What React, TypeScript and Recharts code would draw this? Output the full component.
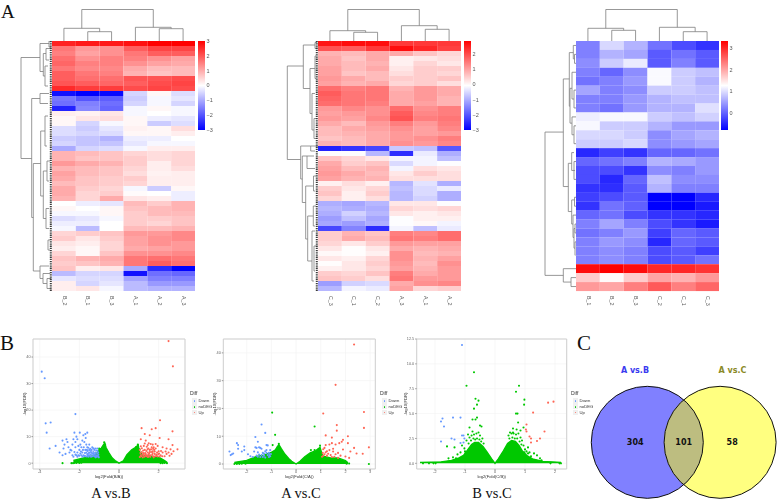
import React from 'react';
import {
  Area, Bar, BarChart, CartesianGrid, Cell, ComposedChart, Legend, ReferenceArea,
  Scatter, ScatterChart, XAxis, YAxis, ZAxis,
} from 'recharts';

// ---------- heatmap A, left ----------
const colsAB = ['B_2', 'B_1', 'B_3', 'A_1', 'A_2', 'A_3'];
const heatAB = [
  [2.6,2.7,2.7,2.8,3,3],[1.6,1.2,1.3,1.9,2.2,2.2],[1.5,1.1,1.3,1.6,1.9,1.9],[1.7,1.3,1.5,1.5,1.3,1.1],[1.8,1.5,1.5,1.3,1.1,1],
  [1.6,1.4,1.4,1,.8,.8],[1.9,1.6,1.5,.9,.7,.8],[1.9,1.7,1.7,2,2,2.1],[2,1.9,1.8,1.9,2.1,2.2],[2.5,2.3,2.3,2.1,2.2,2.1],
  [-2.8,-3,-2.9,-.5,.1,-.4],[-1.6,-2,-1.9,-.6,-.1,-.3],[-1.7,-1.5,-1.7,-.5,-.1,-.5],[-2.6,-1.4,-1.8,-.1,.1,-.1],[.2,.15,.3,-.1,0,-.1],
  [.1,.3,.4,.1,-.2,-.3],[.1,-.5,-.1,.1,-.6,-.4],[-.4,-.6,-.3,.15,.1,.4],[-.4,-.5,-.4,.1,.1,.2],[-.6,-.7,-.9,-.2,-.2,0],
  [-.5,-.7,-.7,-.3,-.1,-.1],[-1,-.5,-.4,-.1,.2,.2],[.9,.8,.7,.5,.4,.5],[.9,.7,.7,.6,.4,.5],[1.2,1,.9,.6,.2,.5],
  [.9,.8,.7,.5,.2,.4],[1.1,.8,.7,.4,.15,.2],[1,.7,.6,.6,.2,.2],[.8,.7,.6,.5,.2,.2],[1,.6,.5,-.1,-.6,.1],
  [1,.5,.6,.05,0,-.2],[.9,.5,1,.3,.2,-.2],[0,-.2,-.3,.8,.6,.9],[.1,0,.1,.7,.8,.9],[-.1,-.1,.1,.6,.8,.8],
  [-.4,-.3,-.1,.6,.6,.7],[-.2,-.2,0,.6,.5,.7],[-.1,-.8,0,.8,.8,.9],[.5,.6,.7,1.2,1.2,1.4],[.6,.3,.6,1.1,1.3,1.4],
  [.3,.2,.5,1.1,1.3,1.2],[.2,.1,.5,1,1.1,1.2],[.5,.1,.7,1.3,1.3,1.4],[.7,.9,1,1.6,1.7,1.6],[.6,.7,.9,1.6,1.9,1.7],
  [.7,.2,.3,-1,-2.5,-3],[-.8,-.5,-.5,-2.8,-1.7,-1.8],[-.3,-.4,-.4,-1.1,-1.5,-1.5],[.2,-.5,-.3,-.8,-1.2,-1.2],[.2,.3,-.1,-.8,-.9,-.9],
];
const ticksAB = [3, 2, 1, 0, -1, -2, -3];
const topAB = [[1.25,12.7,4.25,13.7,31.5],[.5,0,2,9.3,12.7],[1.5,0,2.5,0,9.3],[3.5,0,5,12.3,13.7],[4.5,0,5.5,0,12.3]];
const rowAB = [
  [3.3,12,23.5,20.3,31],[.5,3,6.1,8.7,12],[0,0,1.2,1,3],[2.5,6,7,7,8.7],[1.5,2,3.8,3,6],[5,4,9,4,7],
  [11.5,12,35.3,18.7,20.3],[10.5,3,12.5,4,12],[24.5,11.3,46,12,18.7],[18,7,31,8.7,11.3],[15,4,21,5,7],
  [26,5,35.5,6,8.7],[33.5,3,37.5,3,6],[24,2,28,3,5],[39.8,2,41.8,2,4],[45,3,47.5,9,12],[46.5,2,48.5,5,9],[47.5,1,49.5,1,5],
];

// ---------- heatmap A, middle ----------
const colsAC = ['C_3', 'C_1', 'C_2', 'A_3', 'A_1', 'A_2'];
const heatAC = [
  [2.6,2.7,2.7,2.2,2.2,2.2],[1.9,1.8,2.2,2.7,2.4,2.1],[.8,.7,.9,.9,.6,.4],[.9,.6,.9,.1,.2,.3],[.9,.7,.8,.1,.4,.2],
  [1,.7,.9,.2,.5,.5],[1,.6,.7,.3,.5,.4],[1.1,.9,.7,.5,.5,.6],[1,.8,.9,.4,.5,.3],[1.6,1.4,1.5,.8,1.1,.9],
  [1.8,1.5,1.5,.9,1.1,.9],[1.7,1.5,1.5,.9,1.1,.8],[1.6,1.5,1.4,.9,1,.8],[1.1,1.3,1.2,1.6,1.2,1.4],[1,1.1,1.2,1.8,1.3,1.4],
  [1.1,1,1.3,1.9,1.4,1.5],[.9,.7,1.1,1.4,1.1,1.4],[.7,.9,1,1.2,1,1.3],[.7,.8,.9,1.1,1,1.1],[.6,.7,.9,1.1,1.2,1.4],
  [.8,.7,.9,1.2,1.1,1.3],[-2.6,-2.4,-2.2,-.7,-.8,-2],[-.1,-.1,-.9,-2.5,-.3,-1],[.6,.4,.2,-.2,-.2,-.8],[.9,.5,.6,-.5,-.2,-.1],
  [1,.7,.8,-.2,.3,.2],[1.1,.9,.7,.2,.5,.3],[1,.8,.8,.3,.3,.3],[.1,.3,.1,-.9,-.4,-1],[.5,.2,.4,-.8,-.5,-.3],
  [.6,.1,.5,-.9,-.5,-1],[.4,.1,.3,-.9,-.6,-1],[-1,-1.1,-.9,.2,.2,-.1],[-.9,-1,-1,.4,.3,.4],[-1,-.6,-.9,.2,.1,.2],
  [-1.2,-.8,-1.1,-.1,.1,.1],[-1.1,-1.2,-1,-.1,0,-.2],[-2.2,-1.5,-2.5,-.2,-.8,-.3],[.5,.8,.6,1.4,1.3,1.6],[.5,.9,.7,1.5,1.4,1.6],
  [.4,.2,.5,1.1,1,1],[.2,-.05,.2,.9,.8,.9],[0,-.05,.1,1.2,.7,.8],[.2,.1,.4,1.2,.8,1],[-.05,.2,.5,1.1,.7,1.2],
  [.1,.2,.4,1,.8,1.1],[.5,.4,.6,1.4,.9,1.1],[.6,.5,.3,1.5,1.1,1.1],[-1.2,-.6,-.5,.9,1.2,1.3],[-.9,-.2,-.3,1,.4,.5],
];
const ticksAC = [2, 1, 0, -1, -2, -3];
const topAC = [[1.25,10.3,4.25,15.3,31.5],[.5,0,2,8.7,10.3],[1.5,0,2.5,0,8.7],[3.5,0,5,11.7,15.3],[4.5,0,5.5,0,11.7]];
const rowAC = [
  [5,14.7,23.7,17.3,30.7],[.8,3,9.5,8,14.7],[.3,1,1.5,2,3],[5.5,3,14.5,6,8],[10.5,3,17.8,4,6],[3,2,7.5,2,3],[15.5,2,19.5,2,4],
  [21,7.3,27.6,15.7,17.3],[21,0,22,3,7.3],[23,11,32.3,12.3,15.7],[23,4,25.5,3,11],[29,4.5,39.6,10.3,12.3],
  [35,4.7,44,6,10.3],[33,2,37,3,4.7],[38,3,48,4,6],[41,2,46,3,4],[27,2,30,3,4.5],
];

// ---------- heatmap A, right ----------
const colsBC = ['B_1', 'B_2', 'B_3', 'C_2', 'C_1', 'C_3'];
const heatBC = [
  [.25,.96,.66,.14,-.17,-.37],[.25,.66,.55,-.06,.14,-.06],[.35,.86,1.11,-.06,.25,-.06],[.25,.04,.35,1.23,.86,.76],
  [.14,.25,.45,1.23,.86,.66],[.55,.25,.35,.86,.86,.76],[.25,.25,.45,.66,.76,.76],[.25,.14,.45,.66,.66,1.02],
  [1.13,1.21,1.21,.86,.76,.9],[1.21,.86,.86,.66,.45,.45],[.96,.96,.86,.35,.55,.66],[.86,.86,.96,.35,.45,.55],
  [-.47,-.27,-.37,.04,.04,.14],[.04,.14,.25,.66,.59,.45],[-.17,-.17,-.37,.35,.25,.45],[-.17,-.47,.04,.76,.35,.35],
  [-.37,-.41,-.06,.66,.25,.25],[-.27,-.17,-.06,-.78,-.78,-.47],[-.37,.14,0,-.78,-.78,-.58],[.04,.14,-.17,-.37,-.37,-.47],
  [.25,.55,.25,-.17,-.37,-.58],[.14,.25,.45,-.27,.04,-.06],[.25,.45,.35,-.47,.04,-.06],[.25,.35,.25,-.17,-.06,-.27],
  [.25,.35,.25,-.17,-.06,.14],[3.22,3.32,3.22,3.01,3.01,2.91],[1.68,1.31,1.68,1.99,1.89,2.09],[2.09,1.99,2.3,2.6,2.3,2.5],
];
const ticksBC = [3, 2, 1, 0];
const topBC = [[1.25,12.7,4.25,13.7,31.5],[.5,0,2,10.7,12.7],[1.5,0,2.5,0,10.7],[3.5,0,5,9.3,13.7],[4.5,0,5.5,0,9.3]];
const rowBC = [
  [10.2,12.7,26.25,12.7,31],[25.5,0,27,5,12.7],[26.5,0,27.5,0,5],[4.25,6.7,16.3,7.7,12.7],[1.3,2.7,7.3,6,6.7],[.5,0,2,1.5,2.7],[1.5,0,2.5,0,1.5],
  [5.3,4,9.2,4,6],[3.5,0,6.5,2,4],[5.5,0,7.5,0,2],[8.5,0,10.5,2,4],[9.5,0,11.5,0,2],
  [13.7,4.3,19.1,4.3,7.7],[12.5,2,14.5,1,4.3],[13.5,0,15.5,0,2],[17.8,1.5,20.5,3,4.3],[17.5,0,18.5,0,1.5],[19.5,0,22,2,3],[21,1,23.2,1,2],[20.5,0,21.5,0,1],[22.5,0,24,.6,1],
];

// ---------- volcano plots ----------
const diffLevels = [['Down', '#6699ff'], ['noDEG', '#00c800'], ['Up', '#ff6655']];

const ticksX1 = [-4, -2, 0, 2];
const ticksY1 = [0, 10, 20, 30, 40];
const green1 = [[-2.3,1],[-2,1.6],[-1.5,2.4],[-1.2,3],[-1.05,4.4],[-1,5.2],[-.9,5.6],[-.78,7],[-.72,7.6],[-.65,5.8],[-.5,3.8],[-.35,2],[-.2,1],[0,0],[.22,.9],[.4,3.2],[.64,5],[.8,5.8],[.97,6.8],[1.02,4.5],[1.2,3],[1.6,2.6],[2.07,2],[2.3,1],[2.42,.3]];
const greenDots1 = [[-2.85,0],[-2.4,0],[-2.32,0],[-2.25,.1],[-2.15,.1],[-2,.1],[-1.9,.2],[2.1,0],[2.2,0],[2.3,.1],[2.42,0],[-.75,7.9],[-.7,7],[-.85,5.8],[.95,7],[.85,6],[1.04,5.2],[-1,5.5]];
const blue1 = [[-3.9,34.5],[-3.75,32],[-3.7,15],[-3.45,15.3],[-3.65,11.5],[-3.5,5.5],[-3.2,6.5],[-3,4],[-2.85,8.5],[-2.8,5.5],[-2.75,7],[-2.85,3],[-2.7,3.5],[-2.65,9],[-2.6,8],[-2.55,6],[-2.5,4],[-2.45,5],[-2.35,3],[-2.35,7],[-2.3,9],[-2.25,11.5],[-2.2,18.5],[-2.2,6],[-2.2,8],[-2.15,10],[-2.1,9],[-2.1,4],[-2.05,3],[-2,5],[-1.98,11.5],[-1.95,7],[-1.9,3],[-1.85,4],[-1.8,10.5],[-1.78,6],[-1.75,8],[-1.7,11],[-1.65,4],[-1.6,6],[-1.6,11.5],[-1.55,3],[-1.5,5],[-1.5,7],[-1.45,2.5],[-1.4,4],[-1.35,6],[-1.3,3],[-1.25,5],[-1.2,2.5],[-1.2,4],[-1.15,3],[-1.1,5.5],[-1.05,2.5],[-1.05,4],[-2.3,2.4],[-2.2,3.2],[-2.1,2.4],[-2,2.8],[-1.95,3.6],[-1.85,2.4],[-1.8,3],[-1.75,2.6],[-1.72,3.8],[-1.7,5],[-1.65,2.5],[-1.6,3.4],[-1.58,4.6],[-1.55,2.4],[-1.5,3],[-1.48,4],[-1.42,3.2],[-1.4,2.4],[-1.38,5],[-1.33,2.6],[-1.3,4.2],[-1.28,3.5],[-1.22,3.2],[-1.2,5.5],[-1.18,2.2],[-1.12,2.4],[-1.1,3.6],[-1.08,4.6],[-1.04,3.2],[-1.02,2.2],[-1.9,6],[-1.85,8.5],[-1.68,9.5],[-1.65,7],[-2.05,6.5],[-2.4,4.8],[-1.55,5.8],[-1.92,4.4],[-1.82,5],[-1.62,5],[-1.52,3.8],[-1.45,5.4],[-1.35,3.6],[-1.25,2.6],[-1.15,4.8],[-1.08,2.8],[-1.72,2.8],[-2.15,3],[-2.25,4.2],[-1.42,4.6],[-1.3,5.6],[-1.18,3.8],[-1.58,2.8]];
const red1 = [[2.5,46],[2.72,36.5],[2.07,16.2],[2.7,12],[1.14,13.2],[1.85,13.2],[1.65,12.8],[1.3,11],[1.55,10.5],[2.05,9.5],[2.5,9],[1.1,9],[1.35,8.5],[1.5,7.5],[1.7,7],[1.85,7.2],[1.95,6.5],[2.2,6],[2.4,5.5],[2.7,6.8],[2.95,5.2],[2.75,4.5],[2.65,3.5],[2.55,2.8],[2.4,3.5],[2.2,4],[2.1,3],[2,4.5],[1.95,2.5],[1.85,5.5],[1.8,3.5],[1.75,2.2],[1.7,4.5],[1.65,6],[1.6,3],[1.55,5],[1.5,2.5],[1.45,4],[1.4,6.2],[1.35,2.8],[1.3,5],[1.25,3.5],[1.25,6.5],[1.2,2.2],[1.15,4.2],[1.1,3],[1.05,2.3],[1.05,5],[1.08,3.8],[1.12,2.6],[1.18,3.2],[1.22,4.8],[1.28,2.4],[1.32,3.8],[1.38,4.6],[1.42,3],[1.46,2.3],[1.48,5.5],[1.52,3.6],[1.58,2.4],[1.62,4.2],[1.68,3.2],[1.72,2.6],[1.78,5],[1.82,2.6],[1.88,3.2],[1.92,4],[1.98,3.4],[2.05,2.5],[2.12,4.6],[2.3,2.6],[2.35,4.4],[2.5,4],[2.6,5.2],[1.6,7.2],[1.75,6],[1.45,6.8],[1.3,7.4],[1.15,5.6],[1.1,6.4],[1.25,2.9],[1.35,3.4],[1.5,3.2],[1.55,4.2],[1.7,3.8],[1.8,4.4],[1.9,2.7],[1.62,5.2],[1.44,5.2],[1.72,5.4],[2.02,3.6],[2.18,2.6],[1.22,3.8],[1.38,2.6]];

const ticksX2 = [-2, -1, 0, 1, 2, 3];
const ticksY2 = [0, 10, 20, 30, 40];
const green2 = [[-2.5,.6],[-2,1.3],[-1.6,2.7],[-1.3,3.2],[-1,4.2],[-.85,5],[-.7,7],[-.6,5.5],[-.45,3.5],[-.3,2],[-.18,1],[0,0],[.16,1],[.35,2.6],[.57,4],[.8,4.8],[.97,6],[1.05,3.6],[1.1,2.8],[1.4,2.2],[1.7,2.2],[2,1.2],[2.1,.4]];
const greenDots2 = [[-2.5,0],[-2.4,0],[-2.3,0],[-2.2,.1],[-2.05,.1],[2.05,.1],[2.15,.2],[2.95,0],[-.97,18.5],[-.85,10.5],[.75,13.5],[-.95,6.8],[-.7,7.3],[-.75,6],[.75,5],[.6,5],[.97,6.6],[.9,5.2]];
const blue2 = [[-1.4,14.2],[-1.25,11.2],[-1.65,9.7],[-1.55,8],[-2.4,7.5],[-2.7,4.5],[-2.65,3.2],[-2.6,3.5],[-2.55,3.8],[-2.35,6.8],[-2.35,5.5],[-2.2,4.5],[-2.1,6.3],[-2.1,5],[-1.95,3.5],[-1.85,2.8],[-1.75,2.5],[-1.7,4.5],[-1.65,6],[-1.6,3],[-1.5,6],[-1.45,5.8],[-1.4,5.5],[-1.35,4],[-1.3,3],[-1.25,2.3],[-1.2,6.8],[-1.15,6.7],[-1.2,5],[-1.2,4],[-1.15,3.2],[-1.1,2.5],[-1.05,5],[-1.55,2.6],[-1.5,3.4],[-1.45,2.5],[-1.4,3.2],[-1.35,2.5],[-1.3,3.8],[-1.25,4.6],[-1.1,4],[-1.08,3.2],[-1.05,2.8],[-1.02,3.6],[-1.6,5.8],[-1.55,4.2]];
const red2 = [[2.35,43],[1.6,28.5],[2.75,18.7],[1.1,18.2],[1.65,14],[1.65,12],[2.75,13],[2.1,10],[1.2,10.3],[1.45,9.5],[1.9,8.7],[1.85,8],[2.1,7.5],[1.75,7.5],[1.6,7],[1.45,7.5],[1.35,7],[1.2,6.8],[1.15,5.8],[1.1,5.3],[2.95,6],[2.35,5.8],[2.2,4.5],[1.9,5.2],[2.45,3.8],[2.7,3.7],[1.7,4],[1.5,4.5],[1.3,3.7],[1.25,3],[1.15,3.5],[1.05,2.6],[1.6,3.5],[1.8,3],[2,2.7],[2.15,2.2],[1.45,2.5],[1.7,2.2],[1.5,5.5],[1.35,5],[1.25,4.6],[1.2,4.2],[1.1,3],[1.08,4],[1.4,3.2],[1.55,2.6]];

const ticksX3 = [-2, -1, 0, 1, 2];
const ticksY3 = [0, 2.5, 5, 7.5, 10, 12.5];
const green3 = [[-2.5,.1],[-1.8,.15],[-1.45,.3],[-1.2,.55],[-1.05,.8],[-.9,1.4],[-.78,1.9],[-.68,2.1],[-.55,2.1],[-.4,1.7],[-.28,1.2],[-.11,.45],[0,0],[.11,.45],[.28,1.25],[.42,2],[.55,2.3],[.68,2.2],[.8,1.8],[.9,1.3],[1.05,.8],[1.25,.45],[1.6,.2],[2.2,.1]];
const greenDots3 = [[-2.4,0],[-2.2,0],[-2.05,0],[-1.98,0],[2.15,0],[2.2,0],[1.85,0],[-.7,9.15],[-.95,7.8],[-.65,6.5],[-.55,6.3],[-.6,5.9],[-.7,5.5],[-.6,4.6],[-.75,4.4],[-.65,4.4],[-.85,3.6],[-.5,3.8],[-.45,3.7],[.8,7.8],[.7,7.2],[.98,6.4],[.97,5.9],[.7,5],[.75,5],[.77,4.1],[.95,3.6],[.6,3.5],[-1.6,1.7],[-1.35,1.6],[-1.1,1.8],[-.95,2.3],[-.9,2.9],[-.85,2.6],[-.75,3.2],[-.7,2.9],[-.62,3],[-.55,3.1],[-.5,2.8],[-.42,2.5],[-1.25,.9],[-1,1.2],[-1.3,.5],[.45,2.8],[.5,3.1],[.55,3],[.62,3],[.7,2.9],[.78,3],[.85,2.6],[.9,2.3],[.95,1.8],[1,1.4],[1.05,1.2],[1.15,1.1],[1.3,1],[1.4,.8],[1.5,.5],[1.2,.7],[1.1,1.6],[.85,3.3],[1.55,.3],[-.88,2],[-.8,2.3],[-.72,2.5],[-.66,2.4],[-.6,2.5],[-.52,2.4],[-.46,2.2],[-.38,2],[-1.02,1.5],[-1.15,1.1],[-.98,1],[-1.4,.6],[-1.55,.5],[.48,2.5],[.58,2.6],[.66,2.5],[.74,2.5],[.82,2.2],[.88,1.9],[.98,1.1],[1.1,1],[1.02,.9],[-.78,2.8],[.6,3.1],[.72,3.4]];
const blue3 = [[-1.1,11.9],[-1.8,4.2],[-1.75,4.5],[-1.4,4.6],[-1.15,4.6],[-1.7,3.7],[-1.8,2.2],[-1.45,2.5],[-1.35,2.4],[-1.1,2.8],[-1.15,2.05],[-1.05,2.1],[-1.05,2.8],[-1.02,2.5]];
const red3 = [[1.77,6.1],[1.95,6.2],[1.27,5.1],[1.05,3.9],[1.03,3.4],[1.05,3.2],[1.65,3.2],[1.15,2.7],[1.2,2.5],[1.5,2.5],[1.4,2.25],[1.2,2.1]];

// ---------- Venn ----------
const vennSets = [{ x: -0.65, y: 0, z: 1 }, { x: 0.65, y: 0, z: 1 }];
const vennCounts = [
  { x: -0.866, y: 0, z: 1, label: '304' }, { x: 0, y: 0, z: 1, label: '101' }, { x: 0.866, y: 0, z: 1, label: '58' },
];
const vennTitles = [
  { x: -0.87, y: 1.28, z: 1, label: 'A vs.B', color: '#3a3af0' },
  { x: 0.87, y: 1.28, z: 1, label: 'A vs.C', color: '#8a8a28' },
];

const pts = (rows: number[][]) => rows.map(([x, y]) => ({ x, y }));
const heatColor = (v: number, lo: number, hi: number) => {
  const mid = (lo + hi) / 2;
  const t = Math.max(-1, Math.min(1, (v - mid) / (hi - mid)));
  const c = Math.round(255 * (1 - Math.abs(t)));
  return t >= 0 ? `rgb(255,${c},${c})` : `rgb(${c},${c},255)`;
};
const abs = (left: number, top: number): React.CSSProperties => ({ position: 'absolute', left, top });

function Heatmap({ left, rows, cols, lo, hi }: any) {
  const data = rows.map((r: number[], i: number) => ({ row: i, w: 1 }));
  return (
    <div style={abs(left, 41)}>
      <BarChart width={143} height={270} layout="vertical" data={data} barCategoryGap={0} margin={{ top: 0, right: 0, bottom: 0, left: 0 }}>
        <XAxis type="number" domain={[0, 6]} ticks={cols.map((_: string, i: number) => i + 0.5)} height={20}
          axisLine={false} tickLine={false} interval={0}
          tick={(p: any) => (
            <text x={p.x} y={p.y - 6} transform={`rotate(90 ${p.x} ${p.y - 6})`} fontSize={5.3} fill="#555"
              fontFamily="Liberation Sans" textAnchor="start" dominantBaseline="middle" dx={3}>
              {cols[Math.floor(p.payload.value)]}
            </text>
          )} />
        <YAxis type="category" dataKey="row" hide />
        {cols.map((c: string, j: number) => (
          <Bar key={c} dataKey="w" stackId="h" isAnimationActive={false}>
            {rows.map((r: number[], i: number) => <Cell key={i} fill={heatColor(r[j], lo, hi)} />)}
          </Bar>
        ))}
      </BarChart>
    </div>
  );
}

function ColorBar({ left, lo, hi, ticks, id }: any) {
  return (
    <div style={abs(left, 37)}>
      <BarChart width={30} height={97} data={[{ k: 'c', range: [lo, hi] }]} barCategoryGap={0} margin={{ top: 4, right: 0, bottom: 4, left: 0 }}>
        <defs>
          <linearGradient id={id} x1="0" y1="0" x2="0" y2="1">
            <stop offset="0" stopColor="#ff0000" />
            <stop offset="0.5" stopColor="#ffffff" />
            <stop offset="1" stopColor="#0000ff" />
          </linearGradient>
        </defs>
        <XAxis dataKey="k" hide />
        <YAxis orientation="right" width={23.5} type="number" domain={[lo, hi]} ticks={ticks} interval={0} allowDataOverflow
          axisLine={false} tickLine={false} tickSize={0} tickMargin={2}
          tick={{ fontSize: 5.5, fill: '#555', fontFamily: 'Liberation Sans' }}
          tickFormatter={(v: number) => String(v).replace('-', '\u2212')} />
        <Bar dataKey="range" fill={`url(#${id})`} isAnimationActive={false} />
      </BarChart>
    </div>
  );
}

const noMark = () => <g />;
const dendroStroke = '#7d7d7d';

function TopDendro({ left, merges }: any) {
  return (
    <div style={abs(left, 0)}>
      <ScatterChart width={143} height={41} margin={{ top: 0, right: 0, bottom: 0, left: 0 }}>
        <XAxis type="number" dataKey="x" domain={[0, 6]} hide />
        <YAxis type="number" dataKey="y" domain={[0, 41]} hide />
        {merges.map((m: number[], i: number) => (
          <Scatter key={i} isAnimationActive={false} shape={noMark} line={{ stroke: dendroStroke, strokeWidth: 0.8 }}
            data={pts([[m[0], m[1]], [m[0], m[4]], [m[2], m[4]], [m[2], m[3]]])} />
        ))}
      </ScatterChart>
    </div>
  );
}

function RowDendro({ left, merges, n, comb }: any) {
  return (
    <div style={abs(left, 41)}>
      <ScatterChart width={36} height={250} margin={{ top: 0, right: 0, bottom: 0, left: 0 }}>
        <XAxis type="number" dataKey="x" domain={[0, 36]} reversed hide />
        <YAxis type="number" dataKey="y" domain={[0, n]} reversed hide />
        {merges.map((m: number[], i: number) => (
          <Scatter key={i} isAnimationActive={false} shape={noMark} line={{ stroke: dendroStroke, strokeWidth: 0.8 }}
            data={pts([[m[1], m[0]], [m[4], m[0]], [m[4], m[2]], [m[3], m[2]]])} />
        ))}
        {comb && (
          <Scatter isAnimationActive={false} shape={noMark}
            line={{ stroke: '#3c3c3c', strokeWidth: 2, strokeDasharray: '1.3 0.9' }}
            data={pts([[1.2, 0], [1.2, n]])} />
        )}
      </ScatterChart>
    </div>
  );
}

const dot = (p: any) => <circle cx={p.cx} cy={p.cy} r={1.05} fill={p.fill} />;

function DiffLegend({ x }: { x: number }) {
  return (
    <div style={{ position: 'absolute', left: x, top: 66, fontFamily: 'Liberation Sans', color: '#333', width: 30 }}>
      <div style={{ fontSize: 5, lineHeight: '5px', marginBottom: 2 }}>Diff</div>
      {diffLevels.map(([name, color]) => (
        <div key={name} style={{ display: 'flex', alignItems: 'center', height: 5.8, fontSize: 4.2 }}>
          <span style={{ width: 5, height: 5.6, marginLeft: 2, marginRight: 1.5, background: '#f0f0f0', display: 'inline-flex', alignItems: 'center', justifyContent: 'center' }}>
            <span style={{ width: 1.8, height: 1.8, borderRadius: 1, background: color }} />
          </span>
          {name}
        </div>
      ))}
    </div>
  );
}

function Volcano({ left, yWidth, boxWidth, titleX, xTitle, xDomain, yDomain, xTicks, yTicks, envelope, greens, blues, reds, legendX, yFmt }: any) {
  const right = 215 - yWidth - boxWidth;
  const tick = { fontSize: 3.8, fill: '#666', fontFamily: 'Liberation Sans' };
  const title = { fontSize: 4.2, fill: '#333', fontFamily: 'Liberation Sans' };
  return (
    <div style={abs(left, 325)}>
      <ComposedChart width={215} height={165} margin={{ top: 14, right, bottom: 0, left: 0 }}>
        <CartesianGrid stroke="#f2f2f2" strokeWidth={0.6} />
        <XAxis type="number" dataKey="x" domain={xDomain} ticks={xTicks} height={21} allowDataOverflow interval={0}
          tick={tick} tickSize={1.5} tickMargin={0} stroke="#999" axisLine={false}
          label={{ value: xTitle, position: 'insideBottom', offset: 12, ...title }} />
        <YAxis type="number" dataKey="y" domain={yDomain} ticks={yTicks} width={yWidth} allowDataOverflow interval={0}
          tick={tick} tickSize={1.5} tickMargin={1} stroke="#999" axisLine={false} tickFormatter={yFmt}
          label={{ value: '-log10(FDR)', angle: -90, position: 'insideLeft', offset: titleX, style: { textAnchor: 'middle' }, ...title }} />
        <Area data={pts(envelope)} dataKey="y" type="linear" baseValue={0} stroke="#00c800" strokeWidth={1.4} fill="#00c800" fillOpacity={1} dot={false} activeDot={false} isAnimationActive={false} />
        <Scatter data={pts(greens)} fill="#00c800" shape={dot} isAnimationActive={false} />
        <Scatter data={pts(blues)} fill="#6699ff" shape={dot} isAnimationActive={false} />
        <Scatter data={pts(reds)} fill="#ff6655" shape={dot} isAnimationActive={false} />
        <ReferenceArea x1={xDomain[0]} x2={xDomain[1]} y1={yDomain[0]} y2={yDomain[1]} fill="none" stroke="#cfcfcf" strokeWidth={1} />
        <Legend layout="horizontal" verticalAlign="middle" wrapperStyle={{ left: 0, top: 0, width: 0, height: 0 }} content={() => <DiffLegend x={legendX} />} />
      </ComposedChart>
    </div>
  );
}

function Venn() {
  const stroke = { stroke: '#111', strokeWidth: 1, fill: 'none' };
  return (
    <div style={abs(570, 325)}>
      <ScatterChart width={207} height={175} margin={{ top: 0, right: 0, bottom: 0, left: 0 }}>
        <XAxis type="number" dataKey="x" domain={[-2.03, 1.666]} hide />
        <YAxis type="number" dataKey="y" domain={[-1.03, 2.095]} hide />
        <ZAxis type="number" dataKey="z" range={[9852, 9852]} />
        <Scatter data={[vennSets[0]]} isAnimationActive={false}
          shape={(p: any) => <circle cx={p.cx} cy={p.cy} r={p.width / 2} fill="#8080ff" />} />
        <Scatter data={[vennSets[1]]} isAnimationActive={false}
          shape={(p: any) => (
            <g>
              <clipPath id="vennRight"><circle cx={p.cx} cy={p.cy} r={p.width / 2} /></clipPath>
              <circle cx={p.cx} cy={p.cy} r={p.width / 2} fill="#ffff80" />
            </g>
          )} />
        <Scatter data={[vennSets[0]]} isAnimationActive={false}
          shape={(p: any) => <circle cx={p.cx} cy={p.cy} r={p.width / 2} fill="#bdbd80" clipPath="url(#vennRight)" />} />
        <Scatter data={vennSets} isAnimationActive={false}
          shape={(p: any) => <circle cx={p.cx} cy={p.cy} r={p.width / 2} {...stroke} />} />
        <Scatter data={vennCounts} isAnimationActive={false}
          shape={(p: any) => (
            <text x={p.cx} y={p.cy} textAnchor="middle" dominantBaseline="central" fontSize={8} fontWeight="bold" fill="#111" fontFamily="DejaVu Sans">{p.label}</text>
          )} />
        <Scatter data={vennTitles} isAnimationActive={false}
          shape={(p: any) => (
            <text x={p.cx} y={p.cy} textAnchor="middle" dominantBaseline="central" fontSize={8} fontWeight="bold" fill={p.color} fontFamily="DejaVu Sans">{p.label}</text>
          )} />
      </ScatterChart>
    </div>
  );
}

const serif = (left: number, top: number, size: number, text: string, center = false) => (
  <div style={{ position: 'absolute', left, top, fontFamily: 'Liberation Serif', fontSize: size, lineHeight: `${size}px`, color: '#111', transform: center ? 'translateX(-50%)' : undefined, whiteSpace: 'nowrap' }}>{text}</div>
);

export default function App() {
  return (
    <div style={{ position: 'absolute', left: 0, top: 0, width: 777, height: 500, background: '#fff', overflow: 'hidden' }}>
      {serif(1, 2, 19, 'A')}
      {serif(0, 333, 21, 'B')}
      {serif(577, 333, 21, 'C')}

      <div style={{ position: 'absolute', left: 0, top: 0, width: 777, height: 500, filter: 'blur(0.35px)' }}>
        <TopDendro left={52} merges={topAB} />
        <RowDendro left={16} merges={rowAB} n={50} comb />
        <Heatmap left={52} rows={heatAB} cols={colsAB} lo={-3} hi={3} />
        <ColorBar left={197.5} lo={-3} hi={3} ticks={ticksAB} id="gradAB" />

        <TopDendro left={318} merges={topAC} />
        <RowDendro left={282} merges={rowAC} n={50} comb />
        <Heatmap left={318} rows={heatAC} cols={colsAC} lo={-3} hi={2.85} />
        <ColorBar left={464} lo={-3} hi={2.85} ticks={ticksAC} id="gradAC" />

        <TopDendro left={576} merges={topBC} />
        <RowDendro left={540} merges={rowBC} n={28} />
        <Heatmap left={576} rows={heatBC} cols={colsBC} lo={-0.78} hi={3.32} />
        <ColorBar left={721} lo={-0.78} hi={3.32} ticks={ticksBC} id="gradBC" />

        <Volcano left={0} yWidth={33} boxWidth={152} titleX={25} xTitle="log2(Fold(B/A))" xDomain={[-4.34, 3.33]} yDomain={[-2.2, 46.8]} xTicks={ticksX1} yTicks={ticksY1}
          envelope={green1} greens={greenDots1} blues={blue1} reds={red1} legendX={190} />
        <Volcano left={195} yWidth={28.3} boxWidth={152} titleX={20} xTitle="log2(Fold(C/A))" xDomain={[-2.95, 3.21]} yDomain={[-1.8, 45]} xTicks={ticksX2} yTicks={ticksY2}
          envelope={green2} greens={greenDots2} blues={blue2} reds={red2} legendX={185} />
        <Volcano left={385} yWidth={31.7} boxWidth={150} titleX={20.7} xTitle="log2(Fold(C/B))" xDomain={[-2.61, 2.39]} yDomain={[-0.57, 12.5]} xTicks={ticksX3} yTicks={ticksY3}
          envelope={green3} greens={greenDots3} blues={blue3} reds={red3} legendX={186} yFmt={(v: number) => v.toFixed(1)} />
      </div>

      {serif(111, 486, 14.5, 'A vs.B', true)}
      {serif(301, 486, 14.5, 'A vs.C', true)}
      {serif(492, 486, 14.5, 'B vs.C', true)}

      <Venn />
    </div>
  );
}
